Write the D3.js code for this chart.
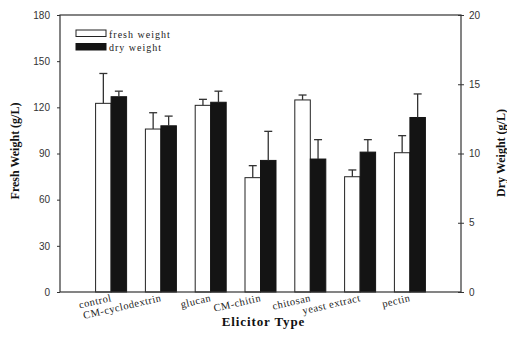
<!DOCTYPE html>
<html>
<head>
<meta charset="utf-8">
<script src="https://cdn.jsdelivr.net/npm/d3@7"></script>
<style>
  html, body { margin: 0; padding: 0; background: #fff; }
  svg { display: block; }
</style>
</head>
<body>
<script>
const categories = ["control", "CM-cyclodextrin", "glucan", "CM-chitin", "chitosan", "yeast extract", "pectin"];
const freshValues = [122.6, 105.9, 121.3, 74.3, 124.8, 74.9, 90.5];
const freshErrors = [19.4, 10.6, 3.9, 7.8, 3.2, 4.4, 11.1];
const dryValues = [14.1, 12.0, 13.7, 9.5, 9.6, 10.1, 12.6];
const dryErrors = [0.4, 0.7, 0.8, 2.1, 1.4, 0.9, 1.7];
const leftTicks = [0, 30, 60, 90, 120, 150, 180];
const rightTicks = [0, 5, 10, 15, 20];
const seriesNames = ["fresh weight", "dry weight"];

const W = 507, H = 340;
const L = 60, R = 461, T = 15, B = 292;
const barW = 15.5;
const serif = "'Liberation Serif', 'DejaVu Serif', serif";
const sans = "'Liberation Sans', Arial, sans-serif";

const svg = d3.select("body").append("svg").attr("width", W).attr("height", H);

const x = d3.scalePoint().domain(categories).range([L, R]).padding(1.026);
const yL = d3.scaleLinear().domain([0, 180]).range([B, T]);
const yR = d3.scaleLinear().domain([0, 20]).range([B, T]);

// bars
const g = svg.append("g");
categories.forEach((c, i) => {
  const cx = x(c);
  g.append("rect").attr("x", cx - barW).attr("y", yL(freshValues[i]))
    .attr("width", barW).attr("height", B - yL(freshValues[i]))
    .attr("fill", "#fff").attr("stroke", "#222").attr("stroke-width", 1);
  g.append("rect").attr("x", cx).attr("y", yR(dryValues[i]))
    .attr("width", barW).attr("height", B - yR(dryValues[i]))
    .attr("fill", "#141414").attr("stroke", "#141414").attr("stroke-width", 1);
  const fx = cx - barW / 2;
  const fTop = yL(freshValues[i] + freshErrors[i]);
  g.append("line").attr("x1", fx).attr("x2", fx)
    .attr("y1", yL(freshValues[i])).attr("y2", fTop)
    .attr("stroke", "#333").attr("stroke-width", 1.3);
  g.append("line").attr("x1", fx - 4).attr("x2", fx + 4)
    .attr("y1", fTop).attr("y2", fTop)
    .attr("stroke", "#333").attr("stroke-width", 1.3);
  const dx = cx + barW / 2;
  const dTop = yR(dryValues[i] + dryErrors[i]);
  g.append("line").attr("x1", dx).attr("x2", dx)
    .attr("y1", yR(dryValues[i])).attr("y2", dTop)
    .attr("stroke", "#333").attr("stroke-width", 1.3);
  g.append("line").attr("x1", dx - 4).attr("x2", dx + 4)
    .attr("y1", dTop).attr("y2", dTop)
    .attr("stroke", "#333").attr("stroke-width", 1.3);
});

// frame
svg.append("rect").attr("x", L).attr("y", T).attr("width", R - L).attr("height", B - T)
  .attr("fill", "none").attr("stroke", "#333").attr("stroke-width", 1.2);

// left axis
const la = svg.append("g").attr("transform", `translate(${L},0)`)
  .call(d3.axisLeft(yL).tickValues(leftTicks).tickSize(3).tickPadding(7));
la.select(".domain").remove();
la.selectAll("line").attr("stroke", "#333");
la.selectAll("text").attr("font-family", sans).attr("font-size", 10).attr("fill", "#333");

// right axis
const ra = svg.append("g").attr("transform", `translate(${R},0)`)
  .call(d3.axisRight(yR).tickValues(rightTicks).tickSize(3).tickPadding(5));
ra.select(".domain").remove();
ra.selectAll("line").attr("x1", -3).attr("stroke", "#333");
ra.selectAll("text").attr("font-family", sans).attr("font-size", 10).attr("fill", "#333");

// x labels
categories.forEach(c => {
  svg.append("text")
    .attr("transform", `translate(${x(c) + 1},${B + 9}) rotate(-13)`)
    .attr("text-anchor", "end")
    .attr("font-family", serif).attr("font-size", 10.5).attr("letter-spacing", 0.5)
    .attr("fill", "#222")
    .text(c);
});

// axis titles
svg.append("text").attr("x", (L + R) / 2 + 3).attr("y", 326)
  .attr("text-anchor", "middle").attr("font-family", serif).attr("font-weight", "bold")
  .attr("font-size", 13).attr("letter-spacing", 0.9).attr("fill", "#111").text("Elicitor Type");
svg.append("text").attr("transform", `translate(19,151) rotate(-90)`)
  .attr("text-anchor", "middle").attr("font-family", serif).attr("font-weight", "bold")
  .attr("font-size", 12).attr("fill", "#111").text("Fresh Weight (g/L)");
svg.append("text").attr("transform", `translate(505,153) rotate(-90)`)
  .attr("text-anchor", "middle").attr("font-family", serif).attr("font-weight", "bold")
  .attr("font-size", 12).attr("fill", "#111").text("Dry Weight (g/L)");

// legend
const lg = svg.append("g");
lg.append("rect").attr("x", 76).attr("y", 30).attr("width", 30).attr("height", 6.5)
  .attr("fill", "#fff").attr("stroke", "#222").attr("stroke-width", 1);
lg.append("rect").attr("x", 76).attr("y", 43.5).attr("width", 30).attr("height", 6.5)
  .attr("fill", "#141414").attr("stroke", "#141414").attr("stroke-width", 1);
lg.append("text").attr("x", 109).attr("y", 37.5).attr("font-family", serif).attr("font-size", 10)
  .attr("letter-spacing", 1).attr("fill", "#222").text(seriesNames[0]);
lg.append("text").attr("x", 109).attr("y", 50.5).attr("font-family", serif).attr("font-size", 10)
  .attr("letter-spacing", 1).attr("fill", "#222").text(seriesNames[1]);
</script>
</body>
</html>
